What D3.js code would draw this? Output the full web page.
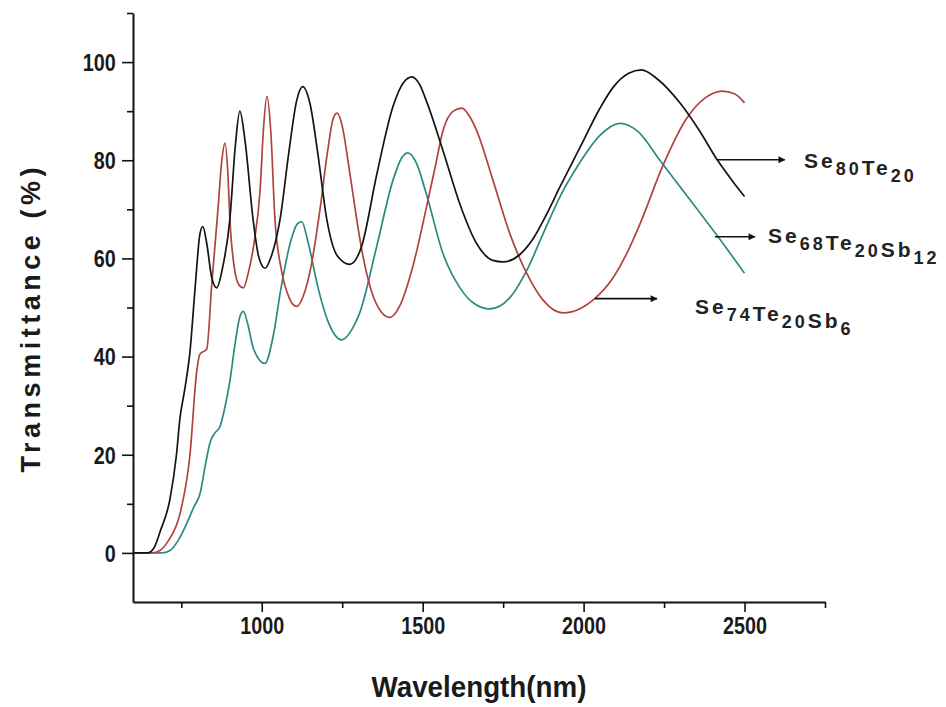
<!DOCTYPE html>
<html>
<head>
<meta charset="utf-8">
<script src="https://cdn.jsdelivr.net/npm/d3@7"></script>
<style>
  html, body { margin: 0; padding: 0; background: #fff; }
  svg { display: block; }
</style>
</head>
<body>
<svg id="chart" width="946" height="707"></svg>
<script>
// ---------------- DATA ----------------
// Se80Te20 (black)
const se80Te20 = [[600,0],[645,0],[665,1],[685,4.5],[715,11],[735,20],[746,27.5],[760,33],[777,41],[793,54],[808,65],[817,66.5],[828,63.5],[845,56],[860,54],[878,58],[901,68],[918,83],[932,90],[948,84],[973,68],[990,60.5],[1010,58],[1030,60.5],[1057,68],[1085,82],[1108,92],[1127,95],[1150,91.5],[1175,81],[1202,68],[1235,60.5],[1274,58.8],[1310,62.4],[1357,77],[1408,91],[1440,95.8],[1467,97],[1490,95.5],[1512,92],[1563,82],[1616,71],[1668,63],[1718,59.6],[1749,59.3],[1802,60.8],[1843,64],[1885,69],[1926,74.5],[1988,82.5],[2050,90.5],[2091,94.8],[2140,97.7],[2180,98.4],[2230,96.5],[2299,91.7],[2360,86],[2413,80.3],[2460,76],[2500,72.6]];
// Se74Te20Sb6 (red)
const se74Te20Sb6 = [[600,0],[660,0],[684,0.5],[710,2.5],[746,8],[777,20],[798,37],[808,40.5],[818,41],[829,41.5],[845,55],[864,70],[876,80],[886,83.5],[895,77],[901,68],[915,58],[930,54.5],[943,54],[958,57],[978,64],[995,74],[1005,86],[1016,93],[1028,86],[1041,68],[1060,58],[1085,52],[1108,50.2],[1130,52.5],[1155,59],[1181,70],[1205,82],[1222,88.5],[1234,89.6],[1250,87],[1270,79],[1295,68],[1310,62],[1340,53.5],[1370,49.2],[1398,48],[1430,50.5],[1470,58.5],[1512,70.5],[1540,79],[1563,86],[1595,90],[1622,90.6],[1645,89],[1668,86],[1718,76],[1771,65],[1823,57],[1874,51.5],[1936,48.9],[1990,49.8],[2029,51.5],[2091,56],[2134,61],[2175,67],[2247,79],[2320,88.5],[2380,92.8],[2430,94.1],[2470,93.5],[2500,91.7]];
// Se68Te20Sb12 (teal)
const se68Te20Sb12 = [[600,0],[690,0],[715,0.5],[740,2.5],[767,6],[790,9.5],[808,12],[825,18],[839,22.4],[855,24.5],[870,25.7],[885,29.5],[901,35],[918,43],[932,48.1],[943,49.2],[955,47],[975,41.5],[1010,38.6],[1035,44],[1060,54],[1090,63.5],[1110,67],[1124,67.5],[1145,63],[1175,54],[1210,46.5],[1248,43.4],[1280,45.5],[1305,49],[1357,62.4],[1408,76],[1435,80.5],[1454,81.5],[1480,79.5],[1512,73],[1563,61],[1616,54],[1660,50.8],[1709,49.7],[1771,52],[1823,57.5],[1874,65],[1930,73],[1988,79.5],[2050,85],[2113,87.5],[2170,85.8],[2237,80],[2330,72],[2413,64.8],[2500,57]];

const xMajorTicks = [1000, 1500, 2000, 2500];
const xMinorTicks = [750, 1250, 1750, 2250, 2750];
const yMajorTicks = [0, 20, 40, 60, 80, 100];
const yMinorTicks = [10, 30, 50, 70, 90, 110];

const xDomain = [600, 2750];
const yDomain = [-10, 110];

const xTitle = "Wavelength(nm)";
const yTitle = "Transmittance (%)";

// labels: [main, sub] parts
const labelSe80 = [["Se","80"],["Te","20"]];
const labelSe68 = [["Se","68"],["Te","20"],["Sb","12"]];
const labelSe74 = [["Se","74"],["Te","20"],["Sb","6"]];

// annotation anchors in data units: arrow start, arrow end, label position
const arrowSe80 = [[2414, 80.1],[2625, 80.1]];
const arrowSe68 = [[2408, 64.4],[2532, 64.4]];
const arrowSe74 = [[2035, 51.8],[2228, 51.8]];
const labelPosSe80 = [2685, 78.4];
const labelPosSe68 = [2573, 63.2];
const labelPosSe74 = [2346, 48.7];

// ---------------- DRAW ----------------
const svg = d3.select("#chart");
const x = d3.scaleLinear().domain(xDomain).range([133, 825]);
const y = d3.scaleLinear().domain(yDomain).range([602, 13]);

const defs = svg.append("defs");
defs.append("marker")
  .attr("id", "arrowhead")
  .attr("viewBox", "0 0 10 10")
  .attr("refX", 9).attr("refY", 5)
  .attr("markerWidth", 9).attr("markerHeight", 7)
  .attr("markerUnits", "userSpaceOnUse")
  .attr("orient", "auto")
  .append("path").attr("d", "M0,0 L10,5 L0,10 z").attr("fill", "#111");

const line = d3.line().x(d => x(d[0])).y(d => y(d[1])).curve(d3.curveMonotoneX);

const series = [
  {data: se68Te20Sb12, color: "#2b8a81"},
  {data: se74Te20Sb6, color: "#b0433f"},
  {data: se80Te20, color: "#141414"}
];
svg.append("g").selectAll("path").data(series).join("path")
  .attr("d", d => line(d.data))
  .attr("fill", "none")
  .attr("stroke", d => d.color)
  .attr("stroke-width", 1.7)
  .attr("stroke-linejoin", "round");

// axes
const fontFam = "'Liberation Sans', Arial, sans-serif";
const xAxisMajor = d3.axisBottom(x).tickValues(xMajorTicks).tickSize(10).tickSizeOuter(0).tickPadding(6).tickFormat(d3.format("d"));
const xAxisMinor = d3.axisBottom(x).tickValues(xMinorTicks).tickSize(6).tickSizeOuter(0).tickFormat("");
const yAxisMajor = d3.axisLeft(y).tickValues(yMajorTicks).tickSize(11).tickSizeOuter(0).tickPadding(6).tickFormat(d3.format("d"));
const yAxisMinor = d3.axisLeft(y).tickValues(yMinorTicks).tickSize(6).tickSizeOuter(0).tickFormat("");

function styleAxis(g) {
  g.select(".domain").attr("stroke", "#111").attr("stroke-width", 2);
  g.selectAll(".tick line").attr("stroke", "#111").attr("stroke-width", 1.6);
  g.selectAll(".tick text")
    .attr("fill", "#1a1a1a")
    .style("font-family", fontFam)
    .style("font-weight", "bold")
    .style("font-size", "23px");
}

const gx = svg.append("g").attr("transform", "translate(0,602)").call(xAxisMajor).call(styleAxis);
gx.selectAll(".tick text").attr("transform", "scale(0.86,1)");
const gxm = svg.append("g").attr("transform", "translate(0,602)").call(xAxisMinor).call(styleAxis);
gxm.select(".domain").remove();

const gy = svg.append("g").attr("transform", "translate(133,0)").call(yAxisMajor).call(styleAxis);
gy.selectAll(".tick text").attr("transform", "scale(0.86,1)").attr("x", -20).attr("dy", "0.36em");
const gym = svg.append("g").attr("transform", "translate(133,0)").call(yAxisMinor).call(styleAxis);
gym.select(".domain").remove();

// axis titles
svg.append("text")
  .attr("x", 479).attr("y", 697)
  .attr("text-anchor", "middle")
  .attr("textLength", 215).attr("lengthAdjust", "spacingAndGlyphs")
  .style("font-family", fontFam).style("font-weight", "bold").style("font-size", "29px")
  .attr("fill", "#1a1a1a")
  .text(xTitle);

svg.append("text")
  .attr("transform", "translate(40,320) rotate(-90)")
  .attr("text-anchor", "middle")
  .attr("textLength", 305).attr("lengthAdjust", "spacing")
  .style("font-family", fontFam).style("font-weight", "bold").style("font-size", "27px")
  .attr("fill", "#1a1a1a")
  .text(yTitle);

// annotations
const arrows = [arrowSe80, arrowSe68, arrowSe74];
svg.append("g").selectAll("line").data(arrows).join("line")
  .attr("x1", d => x(d[0][0])).attr("y1", d => y(d[0][1]))
  .attr("x2", d => x(d[1][0])).attr("y2", d => y(d[1][1]))
  .attr("stroke", "#111").attr("stroke-width", 1.6)
  .attr("marker-end", "url(#arrowhead)");

const labels = [
  {parts: labelSe80, pos: labelPosSe80},
  {parts: labelSe68, pos: labelPosSe68},
  {parts: labelSe74, pos: labelPosSe74}
];
labels.forEach(l => {
  const t = svg.append("text")
    .attr("x", x(l.pos[0])).attr("y", y(l.pos[1]))
    .style("font-family", fontFam).style("font-size", "21px")
    .style("font-weight", "bold")
    .style("letter-spacing", "3px")
    .attr("fill", "#222");
  l.parts.forEach(p => {
    t.append("tspan").attr("dy", 0).style("font-size", "21px").text(p[0]);
    t.append("tspan").attr("dy", 7).style("font-size", "18px").text(p[1]);
    t.append("tspan").attr("dy", -7).style("font-size", "2px").text("");
  });
});
</script>
</body>
</html>
